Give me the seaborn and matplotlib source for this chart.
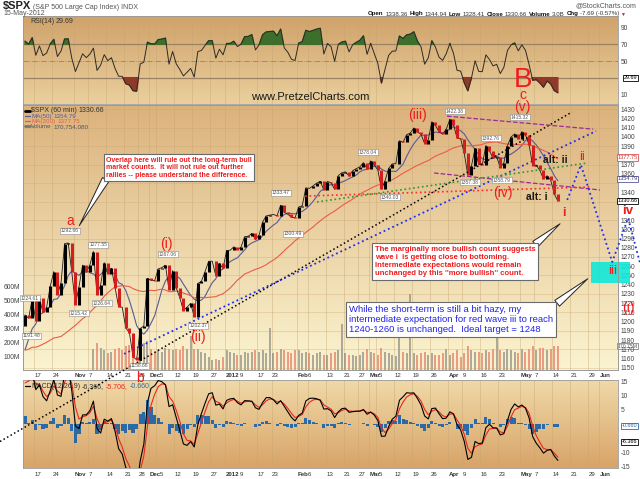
import numpy as np
import pandas as pd
import matplotlib
matplotlib.use("Agg")
import matplotlib.pyplot as plt
import matplotlib.transforms as mtrans
from matplotlib.colors import LinearSegmentedColormap
from matplotlib.patches import Rectangle
import seaborn as sns

# ---------------- data (daily closes read for the hourly chart) ----------------
warmup_closes = [1204.42, 1173.97, 1165.24, 1198.62, 1185.90, 1154.23, 1162.27, 1172.87,
                 1188.68, 1209.11, 1216.01, 1204.09, 1202.09, 1166.76, 1129.56, 1136.43,
                 1162.95, 1175.38, 1151.06, 1160.40, 1131.42, 1099.23, 1123.95, 1144.03,
                 1164.97, 1155.46, 1194.89, 1195.54]
closes = [1207.25, 1203.66, 1224.58,
          1200.86, 1225.38, 1209.88, 1215.39, 1238.25, 1254.19, 1229.05, 1242.00, 1284.59, 1285.09, 1253.30,
          1218.28, 1237.90, 1261.15, 1253.23, 1261.12, 1275.92, 1229.10, 1239.70, 1263.85, 1251.78, 1257.81,
          1236.91, 1216.13, 1215.65, 1192.98, 1188.04, 1161.79, 1158.67, 1192.55, 1195.19, 1246.96,
          1244.58, 1244.28, 1257.08, 1258.47, 1261.01, 1234.35, 1255.19, 1236.47, 1225.73, 1211.82, 1215.75,
          1219.66, 1205.35, 1241.30, 1243.72, 1254.00, 1265.33, 1265.43, 1249.64, 1263.02, 1257.60,
          1277.06, 1277.30, 1281.06, 1277.81, 1280.70, 1292.08, 1292.48, 1295.50, 1289.09, 1293.67, 1308.04,
          1314.50, 1315.38, 1316.00, 1314.65, 1326.06, 1318.43, 1316.33, 1313.01, 1312.41,
          1324.09, 1325.54, 1344.90, 1344.33, 1347.05, 1349.96, 1351.95, 1342.64, 1351.77, 1350.50, 1343.23,
          1358.04, 1361.23, 1362.21, 1357.66, 1363.46, 1365.74, 1367.59, 1372.18, 1365.68,
          1374.09, 1369.63, 1364.33, 1343.36, 1352.63, 1365.91, 1370.87, 1371.09, 1395.95, 1394.28, 1402.60,
          1404.17, 1409.75, 1405.52, 1402.89, 1392.78, 1397.11, 1416.51, 1412.52, 1405.54, 1403.28, 1408.47,
          1419.04, 1413.38, 1398.96, 1398.08, 1382.20, 1358.59, 1368.71, 1387.57, 1370.26, 1369.57, 1390.78,
          1385.14, 1376.92, 1378.53, 1366.94, 1371.97, 1390.69, 1399.98, 1403.36, 1397.91,
          1405.82, 1402.31, 1391.57, 1369.10, 1369.58, 1363.72, 1354.58, 1357.99, 1353.39, 1338.35, 1330.66]
first_day = -3          # trading-day index of the first close (Oct 12, 2011); Oct 17 = 0

volume_first_day = 16
volume_m = [150, 190, 160, 140, 120, 130, 150, 160, 140, 170, 180, 160, 60, 170, 190, 210,
            150, 130, 140, 130, 160, 150, 140, 150, 140, 170, 150, 240, 150, 150, 130, 120, 90, 70, 80, 70, 90,
            140, 130, 120, 110, 110, 130, 120, 130, 140, 130, 140, 120, 300, 120, 130, 150, 140, 130, 120, 140,
            140, 120, 130, 120, 110, 120, 130, 110, 110, 120, 130, 140, 330, 120, 110, 110, 100, 110, 130, 150,
            130, 120, 110, 160, 130, 120, 110, 100, 240, 130, 120, 540, 120, 110, 120, 130, 110, 120, 110, 110,
            120, 150,
            110, 120, 140, 90, 120, 170, 140, 130, 130, 120, 140, 130, 150, 240, 140, 130, 150, 140, 130, 120,
            150, 130, 150, 170, 140, 160, 160, 140, 150, 170, 170]

tick_days = [0, 5, 11, 15, 20, 25, 29, 32, 34, 39, 44, 49, 53, 57, 62, 66, 73, 76, 81, 86, 90,
             93, 95, 100, 105, 110, 115, 119, 124, 129, 135, 139, 144, 149, 154, 157]
tick_labels = ["17", "24", "Nov", "7", "14", "21", "28", "Dec", "5", "12", "19", "27", "2012", "9", "17",
               "23", "Feb", "6", "13", "21", "27", "Mar", "5", "12", "19", "26", "Apr", "9", "16", "23",
               "May", "7", "14", "21", "29", "Jun"]
month_labels = ["Nov", "Dec", "2012", "Feb", "Mar", "Apr", "May", "Jun"]

price_ticks = [p for p in range(1150, 1431, 10) if p not in (1320, 1330, 1350, 1380)]
volume_ticks = [100, 200, 300, 400, 500, 600]
rsi_ticks = [10, 50, 70, 90]
macd_ticks = [15, 10, 5, -10, -15]

value_tags_day = [-1.1, -0.6, 10, 17.8, 12.5, 18.9, 29.4, 45.6, 37.2, 68.6, 71.9, 92.8, 98.9,
                  116.9, 126.9, 121.1, 130, 135]
value_tags_price = [1225.4, 1184.4, 1298.3, 1283, 1209.3, 1220.1, 1151.9, 1195.3, 1273.2, 1339.4,
                    1294.9, 1383.7, 1334.9, 1428.1, 1398.9, 1351.2, 1353.4, 1421.5]
value_tags_text = ["1224.61", "1191.48", "1292.66", "1277.55", "1215.42", "1226.64", "1158.66",
                   "1202.37", "1267.06", "1333.47", "1300.49", "1378.04", "1340.03", "1422.38",
                   "1392.76", "1357.38", "1358.79", "1415.32"]

# trend lines (start/end points in day index / price)
black_days, black_prices = [-9.44, 149.4], [1070.1, 1427.0]
blue_days, blue_prices = [25.0, 156.1], [1165.0, 1406.4]
purple_hi_days, purple_hi_prices = [114.7, 155.3], [1422.6, 1408.5]
purple_lo_days, purple_lo_prices = [111.1, 157.2], [1361.0, 1342.6]
green_days, green_prices = [78.6, 153.6], [1329.6, 1371.8]
red_days, red_prices = [75.3, 154.4], [1336.0, 1345.8]
wave_days = [148.1, 151.9, 160.6, 165.0, 168.3]
wave_prices = [1331.8, 1369.7, 1264.6, 1312.0, 1263.6]
target_zone_days = [154.7, 165.6]
target_zone_prices = [1241.9, 1264.6]

# ---------------- derived indicators ----------------
full = pd.Series(warmup_closes + closes, dtype=float)
nw = len(warmup_closes)
ma50 = full.rolling(7).mean().iloc[nw:].to_numpy()
ma200 = full.rolling(28).mean().iloc[nw:].to_numpy()
delta = full.diff()
rp = 5.0
gain = delta.clip(lower=0).ewm(alpha=1 / rp, adjust=False).mean()
loss = (-delta.clip(upper=0)).ewm(alpha=1 / rp, adjust=False).mean()
rsi = (100 - 100 / (1 + gain / loss)).iloc[nw:].to_numpy()
macd_full = full.ewm(span=3.5, adjust=False).mean() - full.ewm(span=8.0, adjust=False).mean()
sig_full = macd_full.ewm(span=2.6, adjust=False).mean()
macd = macd_full.iloc[nw:].to_numpy()
sig = sig_full.iloc[nw:].to_numpy()
hist = macd - sig

c = np.array(closes)
prev = full.shift(1).iloc[nw:].to_numpy()
up = c >= prev
days = np.arange(first_day, first_day + len(closes))
xc = days + 0.5

# ---------------- figure ----------------
sns.set_theme(style="white")
plt.rcParams["font.family"] = ["Liberation Sans", "DejaVu Sans"]
W, H = 640, 479
fig = plt.figure(figsize=(6.4, 4.79), dpi=100, facecolor="white")


def rect(x0, y0, x1, y1):
    return [x0 / W, 1 - y1 / H, (x1 - x0) / W, (y1 - y0) / H]


ax_m = fig.add_axes(rect(23, 380, 618, 468), zorder=1)
ax_r = fig.add_axes(rect(23, 16, 618, 104), zorder=1)
ax_v = fig.add_axes(rect(23, 105, 618, 370), zorder=2)
ax_p = fig.add_axes(rect(23, 105, 618, 370), zorder=3, sharex=ax_v)
ax_p.patch.set_visible(False)

XL = (-3.06, 162.2)


def gradient(ax, top, bottom):
    cmap = LinearSegmentedColormap.from_list("g", [top, bottom])
    ax.imshow(np.linspace(0, 1, 200)[:, None], cmap=cmap, aspect="auto", extent=(0, 1, 0, 1),
              transform=ax.transAxes, zorder=0, interpolation="bilinear")


gradient(ax_r, "#d0a26a", "#ead09e")
gradient(ax_v, "#dcb27c", "#fbf4d0")
gradient(ax_m, "#f0d9a8", "#d8a468")

grid_c = "#c4a470"
for ax in (ax_r, ax_v, ax_m):
    for d in tick_days:
        ax.axvline(d, color=grid_c, lw=0.5, alpha=0.55, zorder=0.5)
for p in range(1150, 1431, 20):
    ax_p.axhline(p, color=grid_c, lw=0.5, alpha=0.45, zorder=0.5)

for ax in (ax_r, ax_v, ax_p, ax_m):
    ax.set_xlim(*XL)
    for s in ax.spines.values():
        s.set_color("#9a9a9a")
        s.set_linewidth(0.6)
    ax.tick_params(length=0, labelsize=4.8, colors="#444444", pad=2)
ax_p.set_ylim(1147.55, 1434.66)
ax_v.set_ylim(0, 1893)
ax_r.set_ylim(-1.6, 104.0)
ax_m.set_ylim(-15.7, 15.7)
for ax in (ax_r, ax_v, ax_p, ax_m):
    ax.set_xticks([])

# ---- volume ----
vdays = np.arange(volume_first_day, volume_first_day + len(volume_m))
vcol = ["#707070" if up[d - first_day] else "#e05848" for d in vdays]
ax_v.bar(vdays + 0.5, volume_m, width=0.55, color=vcol, alpha=0.55, linewidth=0, zorder=1)
ax_v.yaxis.tick_left()
ax_v.set_yticks(volume_ticks)
ax_v.set_yticklabels([f"{v}M" for v in volume_ticks])

# ---- price ----
sns.lineplot(x=xc, y=c, ax=ax_p, color="#1a1a1a", lw=0.6, estimator=None, sort=False, zorder=3)
ax_p.vlines(xc[up], prev[up], c[up], color="black", lw=2.2, zorder=3)
ax_p.vlines(xc[~up], prev[~up], c[~up], color="#d41e1e", lw=2.2, zorder=3)
sns.lineplot(x=xc, y=ma50, ax=ax_p, color="#5a5a96", lw=0.8, estimator=None, sort=False, zorder=2)
sns.lineplot(x=xc, y=ma200, ax=ax_p, color="#ec5c48", lw=0.8, estimator=None, sort=False, zorder=2)
ax_p.yaxis.tick_right()
ax_p.set_yticks(price_ticks)
ax_p.set_yticklabels([str(p) for p in price_ticks])
ax_p.set_ylabel("")
ax_p.set_xlabel("")

trend = [(black_days, black_prices, "black", ":", 1.1),
         (blue_days, blue_prices, "#1f2cf0", ":", 1.3),
         (purple_hi_days, purple_hi_prices, "#9a2a9a", "--", 0.9),
         (purple_lo_days, purple_lo_prices, "#9a2a9a", "--", 0.9),
         (green_days, green_prices, "#2a9a2a", ":", 1.2),
         (red_days, red_prices, "#ff2a2a", ":", 1.2)]
for dd, pp, col, ls, lw in trend:
    ax_p.plot(dd, pp, color=col, ls=ls, lw=lw, clip_on=False, zorder=4)
ax_p.plot(wave_days, wave_prices, color="#1f2cf0", ls=":", lw=1.3, clip_on=False, zorder=4)
ax_p.add_patch(Rectangle((target_zone_days[0], target_zone_prices[0]),
                         target_zone_days[1] - target_zone_days[0],
                         target_zone_prices[1] - target_zone_prices[0],
                         facecolor="#10e8d8", alpha=0.9, edgecolor="none", clip_on=False, zorder=1))

for d, p, t in zip(value_tags_day, value_tags_price, value_tags_text):
    ax_p.text(d, p, t, fontsize=3.6, color="#555555", ha="center", va="center", zorder=5,
              bbox=dict(boxstyle="square,pad=0.15", fc="white", ec="#8a8a8a", lw=0.4))

red = "#ee1c1c"
wave_text = [("a", 10, 1309, 10, red, "normal"), ("b", 29.4, 1139, 10, red, "normal"),
             ("(i)", 36.9, 1284, 10, red, "normal"), ("(ii)", 45.6, 1183.4, 10, red, "normal"),
             ("(iii)", 106.4, 1423.7, 10, red, "normal"), ("(iv)", 130.3, 1339.4, 10, red, "normal"),
             ("(v)", 135.6, 1432.5, 10, red, "normal"), ("c", 135.8, 1445.5, 10, red, "normal"),
             ("B", 135.8, 1461.7, 20, red, "normal"), ("i", 147.2, 1317.7, 9, red, "bold"),
             ("ii", 152.2, 1378.3, 9, red, "normal"), ("iii", 160.6, 1255, 9.5, red, "normal"),
             ("iv", 165.0, 1319.8, 9.5, red, "bold"), ("(i)", 165.0, 1214.7, 10, red, "normal"),
             ("alt: ii", 144.7, 1375, 7.5, "#1a1a1a", "bold"), ("alt: i", 139.7, 1334.8, 7.5, "#1a1a1a", "bold")]
for t, d, p, fs, col, wt in wave_text:
    ax_p.text(d, p, t, fontsize=fs, color=col, fontweight=wt, ha="center", va="center", zorder=6,
              clip_on=False)

# callouts
box_kw = dict(boxstyle="square,pad=0.35", fc="white", ec="#6a6a6a", lw=0.8)
ax_p.annotate("", xy=(12.2, 1301.4), xytext=(20.3, 1356.6),
              arrowprops=dict(arrowstyle="wedge,tail_width=0.45", fc="white", ec="#222222", lw=0.7), zorder=6)
ax_p.annotate("", xy=(146.7, 1307.9), xytext=(138.6, 1281.9),
              arrowprops=dict(arrowstyle="wedge,tail_width=0.45", fc="white", ec="#222222", lw=0.7), zorder=6)
ax_p.annotate("", xy=(154.4, 1248.3), xytext=(144.7, 1218.0),
              arrowprops=dict(arrowstyle="wedge,tail_width=0.45", fc="white", ec="#222222", lw=0.7), zorder=6)
ax_p.text(20.0, 1378.4, "Overlap here will rule out the long-term bull\nmarket counts.  It will not rule out further\n"
          "rallies -- please understand the difference.", fontsize=5.0, fontweight="bold", color=red,
          ha="left", va="top", linespacing=1.1, bbox=box_kw, zorder=7)
ax_p.text(94.7, 1281.9, "The marginally more bullish count suggests\nwave i  is getting close to bottoming.\n"
          "Intermediate expectations would remain\nunchanged by this ''more bullish'' count.",
          fontsize=5.5, fontweight="bold", color=red, ha="left", va="top", linespacing=1.2, bbox=box_kw, zorder=7)
ax_p.text(87.5, 1218.0, "While the short-term is still a bit hazy, my\nintermediate expectation for red wave iii to reach\n"
          "1240-1260 is unchanged.  Ideal target = 1248", fontsize=6.8, color="#2424e6",
          ha="left", va="top", linespacing=1.15, bbox=box_kw, zorder=7)


# right-axis value boxes (right edge held inside the figure)
def side_box(ax, y, s, ec, tc, fs=4.0):
    ax.text(637.5 / W, y, s, transform=mtrans.blended_transform_factory(fig.transFigure, ax.transData),
            fontsize=fs, color=tc, ha="right", va="center", zorder=8, clip_on=False,
            bbox=dict(boxstyle="square,pad=0.12", fc="white", ec=ec, lw=0.6))


side_box(ax_p, 1377.75, "1377.75", "#e05050", "#c03030")
side_box(ax_p, 1354.79, "1354.79", "#5a5a96", "#404070")
side_box(ax_p, 1330.66, "1330.66", "black", "black")
side_box(ax_v, 170.75, "170.75M", "#888888", "#555555", fs=3.7)

# ---- RSI ----
sns.lineplot(x=xc, y=rsi, ax=ax_r, color="#2e2a26", lw=0.7, estimator=None, sort=False, zorder=3)
ax_r.fill_between(xc, rsi, 70, where=rsi > 70, interpolate=True, color="#3e6e2c", zorder=2)
ax_r.fill_between(xc, rsi, 30, where=rsi < 30, interpolate=True, color="#8e3a28", zorder=2)
ax_r.axhline(70, color="#9a8262", lw=0.9, zorder=1)
ax_r.axhline(30, color="#9a8262", lw=0.9, zorder=1)
ax_r.axhline(50, color="#9a8262", lw=0.6, ls="-.", zorder=1)
ax_r.yaxis.tick_right()
ax_r.set_yticks(rsi_ticks)
ax_r.set_yticklabels([str(v) for v in rsi_ticks])
ax_r.set_xlabel("")
side_box(ax_r, 29.69, "29.69", "black", "black")
ax_r.text(76.7, 6.8, "www.PretzelCharts.com", fontsize=8, color="#1a1a1a", ha="center", va="center", zorder=5)

# ---- MACD ----
ax_m.bar(xc, hist, width=0.85, color="#2c6aa6", linewidth=0, zorder=2)
sns.lineplot(x=xc, y=sig, ax=ax_m, color="#e8281e", lw=0.8, estimator=None, sort=False, zorder=3)
sns.lineplot(x=xc, y=macd, ax=ax_m, color="black", lw=0.8, estimator=None, sort=False, zorder=4)
ax_m.yaxis.tick_right()
ax_m.set_yticks(macd_ticks)
ax_m.set_yticklabels([str(v) for v in macd_ticks])
ax_m.set_xlabel("")
side_box(ax_m, -0.66, "-0.660", "#2c6aa6", "#2c6aa6")
side_box(ax_m, -6.37, "-6.366", "black", "black")

# date labels (a label right after a month name is nudged so the two only touch)
for ax, yf in ((ax_p, -0.019), (ax_m, -0.07)):
    tr = mtrans.blended_transform_factory(ax.transData, ax.transAxes)
    for i, (d, lab) in enumerate(zip(tick_days, tick_labels)):
        nudge = 0.9 if i > 0 and tick_labels[i - 1] in ("Dec", "Mar") else 0.15
        ax.text(d + nudge, yf, lab, transform=tr, fontsize=4.4, color="#333333", ha="left", va="center",
                fontweight="bold" if lab in month_labels else "normal", clip_on=False)


# chained text helper
def chain(ax, x, y, parts, transform):
    s, kw = parts[0]
    t = ax.text(x, y, s, transform=transform, va="bottom", ha="left", **kw)
    for s, kw in parts[1:]:
        kw = dict(kw)
        gap = kw.pop("gap", 1.2)
        t = ax.annotate(s, xy=(1, 0), xycoords=t, xytext=(gap, 0), textcoords="offset points",
                        va="bottom", ha="left", **kw)
    return t


g = dict(fontsize=5, color="#555555")
chain(ax_r, 3 / W, 1 - 11 / H, [("$SPX", dict(fontsize=8, fontweight="bold", color="#222222")),
                               ("(S&P 500 Large Cap Index) INDX", g)], fig.transFigure)
ax_r.text(3 / W, 1 - 17 / H, "15-May-2012", transform=fig.transFigure, va="bottom", ha="left", **g)
ax_r.text(636 / W, 1 - 9 / H, "@StockCharts.com", transform=fig.transFigure, va="bottom", ha="right", **g)
b = dict(fontsize=4.4, fontweight="bold", color="#111111")
n = dict(fontsize=4.4, color="#333333")
chain(ax_r, 368 / W, 1 - 16.5 / H,
      [("Open", b), ("1338.36", n), ("High", b), ("1344.94", n), ("Low", b), ("1328.41", n),
       ("Close", b), ("1330.66", n), ("Volume", b), ("3.0B", n), ("Chg", b), ("-7.69 (-0.57%)", n),
       ("\u25BC", dict(fontsize=3.6, color="#cc2020"))], fig.transFigure)

# panel headers
n5 = dict(fontsize=5, color="#333333")
chain(ax_r, 0.012, 0.90, [("RSI(14)", dict(fontsize=5, color="#333333")), ("29.69", n5)], ax_r.transAxes)
ax_p.plot([0.004, 0.011], [0.978, 0.978], color="black", lw=2.0, transform=ax_p.transAxes, clip_on=False)
ax_p.plot([0.004, 0.011], [0.958, 0.958], color="#5a5a96", lw=0.9, transform=ax_p.transAxes)
ax_p.plot([0.004, 0.011], [0.939, 0.939], color="#ec5c48", lw=0.9, transform=ax_p.transAxes)
ax_p.plot([0.004, 0.011], [0.920, 0.920], color="#777777", lw=2.0, transform=ax_p.transAxes)
chain(ax_p, 0.014, 0.967, [("$SPX (60 min)", dict(fontsize=5, color="#333333")), ("1330.66", n5)], ax_p.transAxes)
chain(ax_p, 0.014, 0.948, [("MA(50)", dict(fontsize=4.5, color="#5a5a96")), ("1354.79", dict(fontsize=4.5, color="#5a5a96"))], ax_p.transAxes)
chain(ax_p, 0.014, 0.929, [("MA(200)", dict(fontsize=4.5, color="#ec5c48")), ("1377.75", dict(fontsize=4.5, color="#ec5c48"))], ax_p.transAxes)
chain(ax_p, 0.014, 0.910, [("Volume", dict(fontsize=4.5, color="#555555")), ("170,754,080", dict(fontsize=4.5, color="#555555"))], ax_p.transAxes)
ax_m.plot([0.004, 0.011], [0.935, 0.935], color="black", lw=0.9, transform=ax_m.transAxes)
chain(ax_m, 0.014, 0.89, [("MACD(12,26,9)", dict(fontsize=5, color="#333333")), ("-6.366,", n5),
                          ("-5.706,", dict(fontsize=5, color="#e8281e")),
                          ("-0.660", dict(fontsize=5, color="#2c6aa6"))], ax_m.transAxes)

fig.savefig("out.png", dpi=100, facecolor="white")
